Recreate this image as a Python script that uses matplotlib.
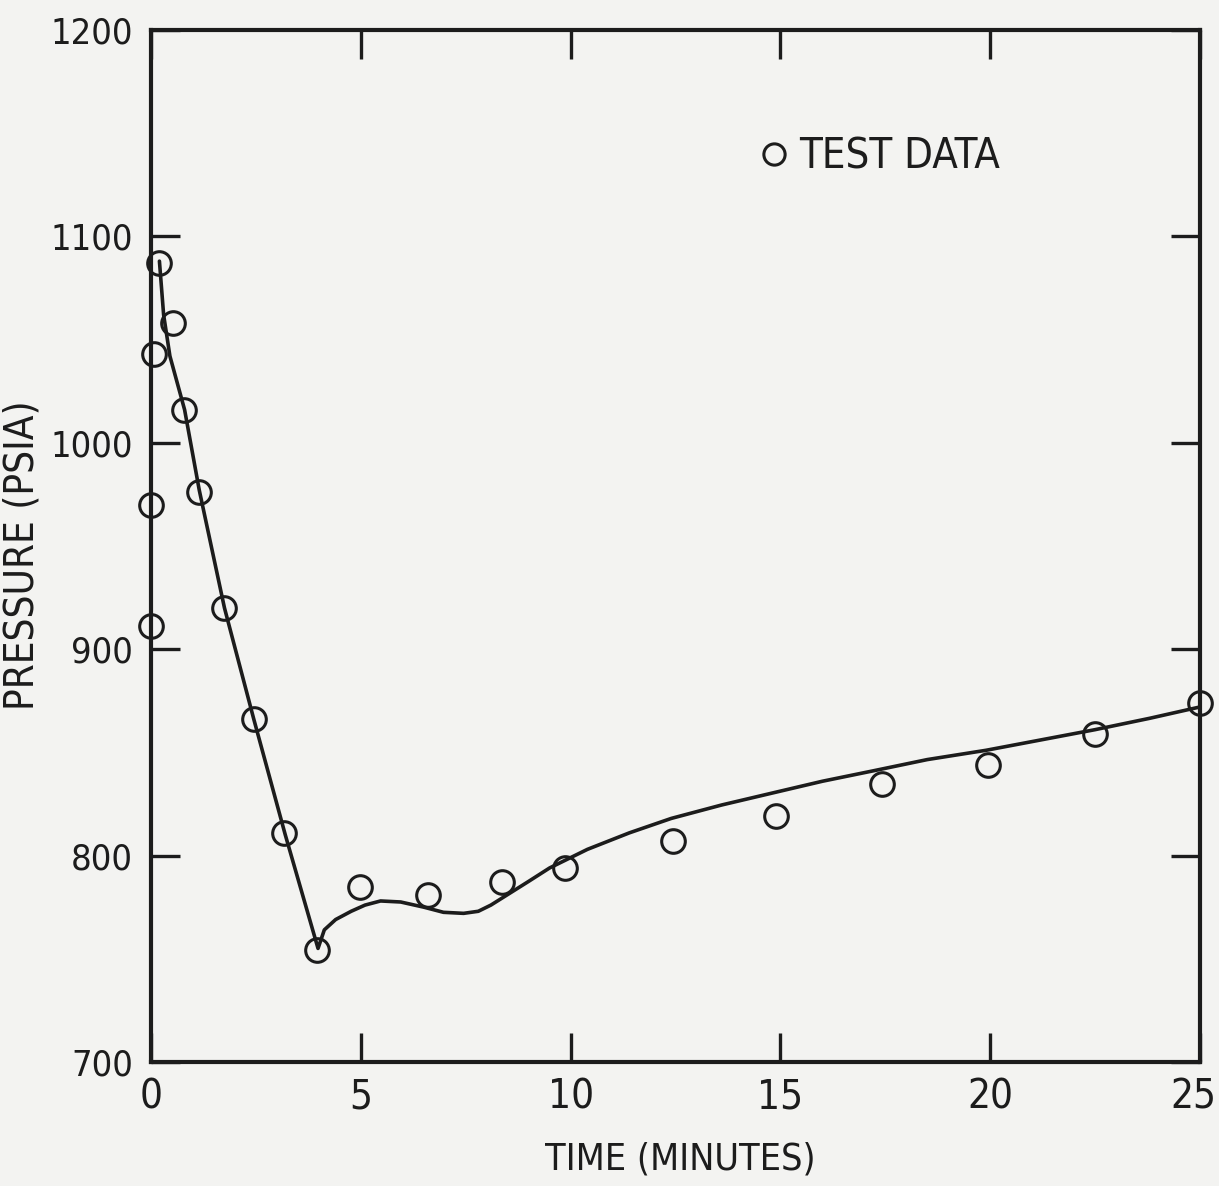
import matplotlib
matplotlib.use("Agg")
import matplotlib.pyplot as plt
from matplotlib.transforms import ScaledTranslation

plt.rcParams['font.family'] = ['DejaVu Sans']
plt.rcParams['font.stretch'] = 'condensed'

INK = '#1c1c1c'
PAPER = '#f3f3f1'

# test data (circles)
test_t = [0.0, 0.0, 0.07, 0.19, 0.53, 0.79, 1.15, 1.74, 2.46, 3.18, 3.96,
          4.97, 6.59, 8.36, 9.87, 12.44, 14.9, 17.43, 19.94, 22.5, 25.0]
test_p = [911, 970, 1043, 1087, 1058, 1016, 976, 920, 866, 811, 754,
          785, 781, 787, 794, 807, 819, 834.5, 844, 859, 874]

# calculated curve
calc_t = [0.2, 0.3, 0.45, 0.8, 1.15, 1.75, 2.45, 3.2, 3.98, 4.13, 4.4, 4.77,
          5.1, 5.47, 5.95, 6.5, 6.97, 7.45, 7.8, 8.1, 8.57, 9.0, 9.5, 10.4,
          11.4, 12.4, 13.6, 14.85, 16.0, 17.2, 18.5, 19.9, 21.2, 22.5, 23.8, 25.0]
calc_p = [1088, 1062, 1042, 1016, 977, 920, 866, 810, 755, 764, 769, 773,
          776, 778, 777.5, 775, 772.5, 772, 773, 776, 782, 787.5, 794, 803,
          811, 818, 824.5, 830.5, 836, 841, 846.5, 851, 856, 861, 866.5, 872]

x_ticks = [0, 5, 10, 15, 20, 25]
y_ticks = [700, 800, 900, 1000, 1100, 1200]

fig = plt.figure(figsize=(12.19, 11.86), dpi=100, facecolor=PAPER)
ax = fig.add_axes([0.1239, 0.1046, 0.8605, 0.8701], facecolor=PAPER)

ax.plot(calc_t, calc_p, color=INK, lw=2.6, solid_capstyle='round')
ax.plot(test_t, test_p, 'o', ms=17, mfc='none', mec=INK, mew=2.2,
        clip_on=False, label='TEST DATA')

ax.set_xlim(0, 25)
ax.set_ylim(700, 1200)
ax.set_xticks(x_ticks)
ax.set_yticks(y_ticks)
ax.set_xticklabels([str(v) for v in x_ticks])
ax.set_yticklabels([str(v) for v in y_ticks])

ax.tick_params(direction='in', length=21, width=2.4, color=INK,
               top=True, right=True, labelcolor=INK)
ax.tick_params(axis='x', pad=11, labelsize=29)
ax.tick_params(axis='y', pad=13, labelsize=26)
for sp in ax.spines.values():
    sp.set_linewidth(3)
    sp.set_color(INK)

# last x label sits at the page edge, nudge it in a little
last = ax.get_xticklabels()[-1]
last.set_transform(last.get_transform() + ScaledTranslation(-5 / 72, 0, fig.dpi_scale_trans))

ax.set_xlabel('TIME (MINUTES)', fontsize=27, color=INK)
ax.set_ylabel('PRESSURE (PSIA)', fontsize=29, color=INK)
ax.xaxis.set_label_coords(0.505, -0.077)
ax.yaxis.set_label_coords(-0.103, 0.491)

ax.legend(loc='center left', bbox_to_anchor=(0.56, 0.877), frameon=False,
          fontsize=30, handlelength=0.7, handletextpad=0.25, borderpad=0,
          markerscale=0.9, labelcolor=INK)

fig.savefig('out.png', dpi=100, facecolor=PAPER)
